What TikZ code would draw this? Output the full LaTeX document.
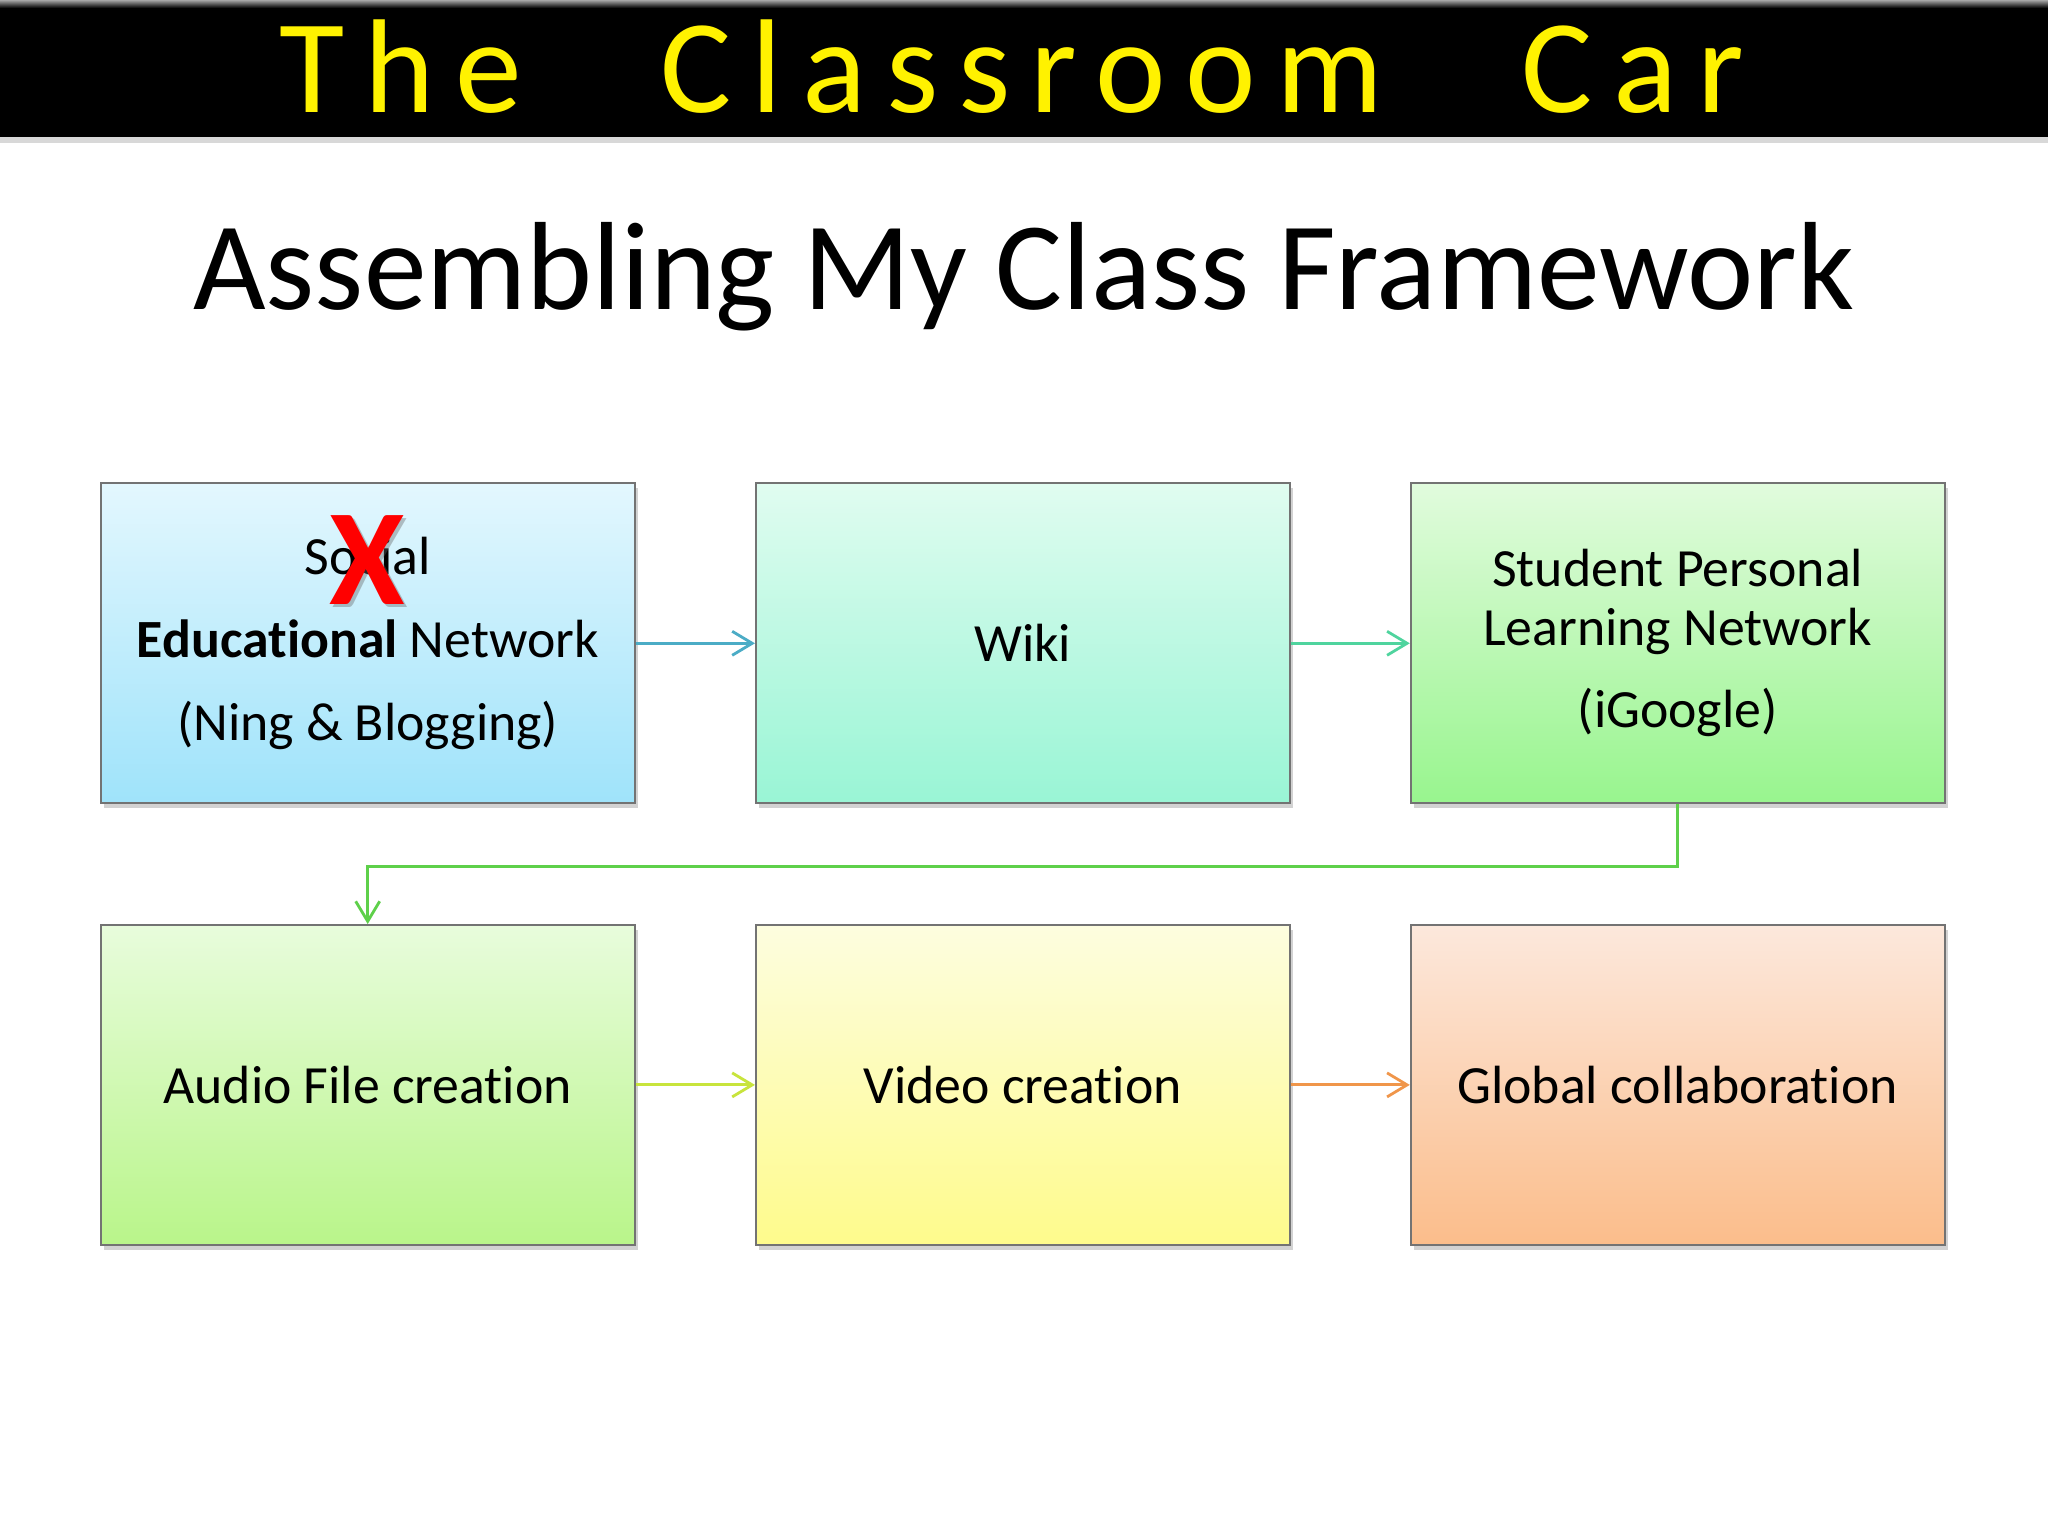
\documentclass[tikz,border=0pt]{standalone}
\usepackage{fontspec}
\setmainfont[Ligatures=NoCommon]{Carlito}
\newfontfamily\headfont[LetterSpace=15]{Carlito}
\usetikzlibrary{arrows.meta,shadows}
\definecolor{barblue}{HTML}{4BACC6}
\definecolor{barteal}{HTML}{4FD49E}
\definecolor{bargreen}{HTML}{5ED04A}
\definecolor{barlime}{HTML}{C8E43C}
\definecolor{barorange}{HTML}{F0964A}
\definecolor{crossred}{HTML}{FF0000}
\tikzset{
  stage/.style={
    draw=gray!90!black,
    line width=0.5pt,
    minimum width=5.34cm,
    minimum height=3.2cm,
    align=center,
    font=\fontsize{15.3}{16.8}\selectfont,
    drop shadow={shadow xshift=0.03cm,shadow yshift=-0.05cm,opacity=0.35}
  },
  link/.style={
    line width=0.8pt,
    -{Straight Barb[length=0.2cm,width=0.24cm,line width=0.8pt]}
  }
}

\begin{document}
\begin{tikzpicture}[x=1cm,y=1cm]
\def\colA{3.677}
\def\colB{10.228}
\def\colC{16.777}
\def\rowA{-6.433}
\def\rowB{-10.849}
\useasboundingbox (0,0) rectangle (20.48,-15.36);
\fill[white] (0,0) rectangle (20.48,-15.36);
% header bar
\fill[black,drop shadow={shadow xshift=0cm,shadow yshift=-0.06cm,opacity=0.3}]
  (0,0) rectangle (20.48,-1.37);
\shade[top color=gray!70,bottom color=black] (0,0) rectangle (20.48,-0.08);
\node[text=yellow,font=\headfont\fontsize{38}{38}\selectfont,anchor=base] (head)
  at (10.12,-1.13) {The\hspace{1.39cm}Classroom\hspace{1.39cm}Car};
\node[font=\fontsize{35.7}{36}\selectfont,anchor=base] (sub) at (10.24,-3.095)
  {Assembling My Class Framework};
% stages
\node[stage,top color={rgb,255:red,227;green,247;blue,254},
  bottom color={rgb,255:red,159;green,227;blue,250},
  font=\fontsize{15.3}{23.6}\selectfont] (n1) at (\colA,\rowA)
  {Social\\\textbf{Educational} Network\\(Ning \& Blogging)};
\node[stage,top color={rgb,255:red,224;green,252;blue,240},
  bottom color={rgb,255:red,153;green,245;blue,213}] (n2) at (\colB,\rowA) {Wiki};
\node[stage,top color={rgb,255:red,225;green,251;blue,221},
  bottom color={rgb,255:red,152;green,245;blue,142}] (n3) at (\colC,\rowA)
  {Student Personal\\Learning Network\\[6.5pt](iGoogle)};
\node[stage,top color={rgb,255:red,232;green,252;blue,220},
  bottom color={rgb,255:red,185;green,245;blue,138}] (n4) at (\colA,\rowB)
  {Audio File creation};
\node[stage,top color={rgb,255:red,253;green,253;blue,223},
  bottom color={rgb,255:red,254;green,251;blue,140}] (n5) at (\colB,\rowB)
  {Video creation};
\node[stage,top color={rgb,255:red,252;green,232;blue,220},
  bottom color={rgb,255:red,251;green,189;blue,139}] (n6) at (\colC,\rowB)
  {Global collaboration};
% crossed out word
\node[text=black!60,opacity=0.4,font=\bfseries\fontsize{39}{39}\selectfont]
  (xs) at ([xshift=0.03cm,yshift=0.80cm]n1.center) {X};
\node[text=crossred,font=\bfseries\fontsize{39}{39}\selectfont]
  (xmark) at ([yshift=0.835cm]n1.center) {X};
% links
\draw[link,barblue] (n1.east) -- (n2.west);
\draw[link,barteal] (n2.east) -- (n3.west);
\draw[link,bargreen] (n3.south) -- ++(0,-0.62) -| (n4.north);
\draw[link,barlime] (n4.east) -- (n5.west);
\draw[link,barorange] (n5.east) -- (n6.west);
\end{tikzpicture}
\end{document}
